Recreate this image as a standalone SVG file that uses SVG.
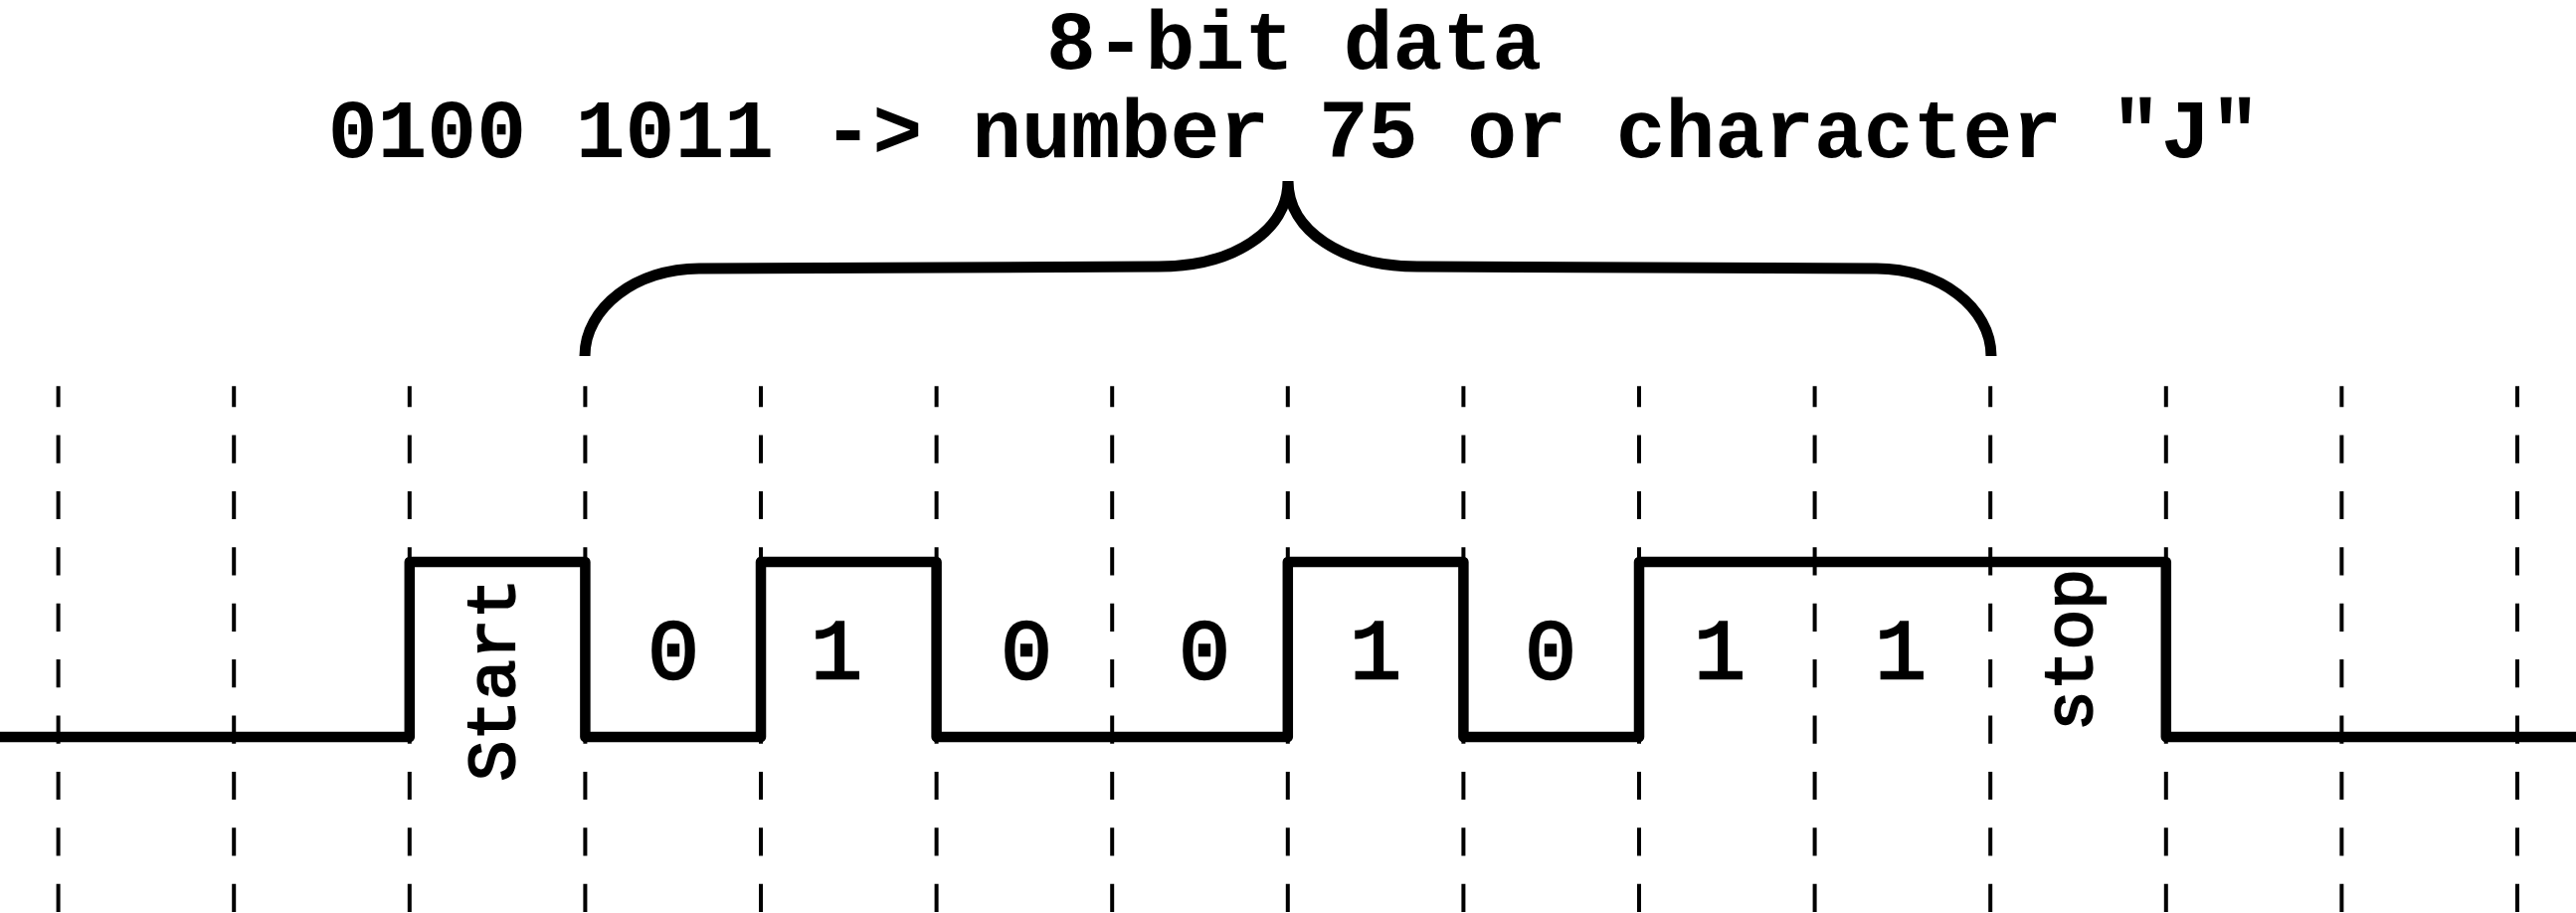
<svg xmlns="http://www.w3.org/2000/svg" width="2590" height="918" viewBox="0 0 2590 918">
  <style>
    .grid { stroke: #000; stroke-width: 4; stroke-dasharray: 28.2 28.2; stroke-dashoffset: 7.2; fill: none; }
    .sig { stroke: #000; stroke-width: 10.5; fill: none; stroke-linejoin: round; }
    .brace { stroke: #000; stroke-width: 11; fill: none; }
    .title { font-family: "Liberation Mono", "Courier New", monospace; font-weight: bold; font-size: 83px; fill: #000; text-anchor: middle; }
    .bit { font-family: "Liberation Mono", "Courier New", monospace; font-size: 86px; fill: #000; stroke: #000; stroke-width: 2.5; text-anchor: middle; }
    .lbl { font-family: "Liberation Mono", "Courier New", monospace; font-size: 68px; fill: #000; stroke: #000; stroke-width: 2.2; text-anchor: middle; }
  </style>
  <rect width="2590" height="918" fill="#fff"/>
  <g id="title">
    <text class="title" x="1301" y="69" font-size="82">8-bit data</text>
    <text class="title" x="1301" y="158">0100 1011 -&gt; number 75 or character "J"</text>
  </g>
  <g id="grid">
    <line class="grid" x1="58.6" y1="388.3" x2="58.6" y2="918"/>
    <line class="grid" x1="235.2" y1="388.3" x2="235.2" y2="918"/>
    <line class="grid" x1="411.8" y1="388.3" x2="411.8" y2="918"/>
    <line class="grid" x1="588.4" y1="388.3" x2="588.4" y2="918"/>
    <line class="grid" x1="765" y1="388.3" x2="765" y2="918"/>
    <line class="grid" x1="941.6" y1="388.3" x2="941.6" y2="918"/>
    <line class="grid" x1="1118.2" y1="388.3" x2="1118.2" y2="918"/>
    <line class="grid" x1="1294.8" y1="388.3" x2="1294.8" y2="918"/>
    <line class="grid" x1="1471.4" y1="388.3" x2="1471.4" y2="918"/>
    <line class="grid" x1="1648" y1="388.3" x2="1648" y2="918"/>
    <line class="grid" x1="1824.6" y1="388.3" x2="1824.6" y2="918"/>
    <line class="grid" x1="2001.2" y1="388.3" x2="2001.2" y2="918"/>
    <line class="grid" x1="2177.8" y1="388.3" x2="2177.8" y2="918"/>
    <line class="grid" x1="2354.4" y1="388.3" x2="2354.4" y2="918"/>
    <line class="grid" x1="2531" y1="388.3" x2="2531" y2="918"/>
  </g>
  <g id="brace">
    <path class="brace" d="M588,358 C588,309 640,270 703,270 L1165,268 C1240,268 1295,232 1295,182 C1295,232 1350,268 1425,268 L1887,270 C1950,270 2002,309 2002,358"/>
  </g>
  <g id="signal">
    <path class="sig" d="M0,741 L411.8,741 L411.8,565 L588.4,565 L588.4,741 L765,741 L765,565 L941.6,565 L941.6,741 L1294.8,741 L1294.8,565 L1471.4,565 L1471.4,741 L1648,741 L1648,565 L2177.8,565 L2177.8,741 L2590,741"/>
  </g>
  <g id="bits">
    <text class="bit" x="677" y="682">0</text>
    <text class="bit" x="841" y="682">1</text>
    <text class="bit" x="1032" y="682">0</text>
    <text class="bit" x="1211" y="682">0</text>
    <text class="bit" x="1383" y="682">1</text>
    <text class="bit" x="1559" y="682">0</text>
    <text class="bit" x="1729" y="682">1</text>
    <text class="bit" x="1911" y="682">1</text>
  </g>
  <g id="start-label">
    <text class="lbl" transform="translate(517,683.5) rotate(-90)">Start</text>
  </g>
  <g id="stop-label">
    <text class="lbl" transform="translate(2103,653.5) rotate(-90)">stop</text>
  </g>
</svg>
